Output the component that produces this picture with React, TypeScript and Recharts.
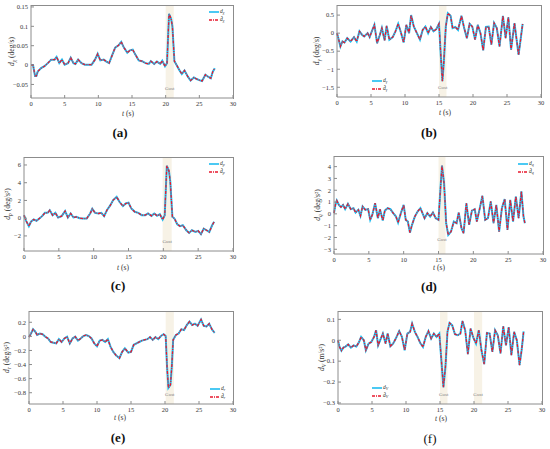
import React from 'react';
import { LineChart, Line, XAxis, YAxis, ReferenceArea, Legend } from 'recharts';

const FONT = '"Liberation Serif", "DejaVu Serif", serif';
const CYAN = '#1ebcf0';
const RED = '#e8182e';
const GREY = '#8c8c8c';
const TEXT = '#333333';
const BAND = '#f7f2e6';

const timeTicks = [0, 5, 10, 15, 20, 25, 30];

// (a) d_chi, deg/s
const timeA = [0, 0.3, 0.6, 0.8, 1, 1.5, 2, 2.5, 3, 3.5, 3.8, 4.2, 4.6, 5, 5.5, 5.9, 6.3, 6.6, 7, 7.5, 8, 8.5, 9, 9.5, 9.9, 10.3, 10.8, 11.2, 11.6, 12, 12.5, 13, 13.4, 13.8, 14.3, 14.7, 15.1, 15.5, 16, 16.5, 17, 17.5, 17.8, 18.3, 18.7, 19.2, 19.5, 19.9, 20.2, 20.5, 20.8, 21, 21.3, 21.6, 22, 22.4, 22.8, 23.3, 23.7, 24.2, 24.6, 25, 25.4, 25.9, 26.3, 26.7, 27, 27.3];
const dChi = [0, 0, -0.028, -0.028, -0.017, -0.008, -0.003, 0.005, 0.014, 0.014, 0.021, 0.005, 0.014, 0.001, 0.005, 0.019, 0.005, 0.003, 0.014, 0.005, 0.001, 0.001, 0.001, 0.014, 0.029, 0.012, 0.014, 0.009, 0.005, 0.023, 0.045, 0.051, 0.06, 0.045, 0.032, 0.038, 0.04, 0.027, 0.012, 0.01, 0.005, 0.003, 0.01, 0.003, 0.009, 0.003, 0.011, -0.003, 0.005, 0.132, 0.12, 0.1, 0.01, 0.001, -0.012, -0.023, -0.014, -0.03, -0.04, -0.032, -0.036, -0.039, -0.041, -0.025, -0.03, -0.034, -0.017, -0.008];
const ticksA = [-0.05, 0, 0.05, 0.1, 0.15];

// (b) d_gamma, deg/s
const timeB = [0, 0.2, 0.5, 0.8, 1.1, 1.5, 2, 2.5, 2.9, 3.3, 3.7, 4, 4.5, 4.8, 5.2, 5.5, 5.9, 6.3, 6.6, 7, 7.3, 7.7, 8.2, 8.6, 9, 9.4, 9.8, 10.2, 10.6, 10.9, 11.3, 11.7, 12.2, 12.6, 13, 13.4, 13.8, 14.2, 14.6, 15, 15.3, 15.5, 15.7, 16, 16.3, 16.7, 17, 17.4, 17.8, 18.3, 18.7, 19.1, 19.5, 19.9, 20.3, 20.7, 21.1, 21.5, 21.9, 22.3, 22.7, 23.1, 23.5, 23.9, 24.4, 24.8, 25.2, 25.6, 26.1, 26.7, 27, 27.3];
const dGamma = [0, -0.14, -0.37, -0.23, -0.26, -0.14, -0.23, -0.11, -0.23, 0.05, -0.05, -0.09, 0, -0.11, 0.09, 0.23, -0.28, -0.05, 0.14, -0.2, 0.2, -0.18, -0.11, 0.05, 0.26, 0.02, -0.26, 0.23, 0, 0.5, 0.18, 0.02, -0.18, 0.09, 0.18, 0, 0.17, 0.05, 0.11, 0.26, -0.73, -1.33, -0.83, 0.18, 0.55, 0.48, 0.14, 0.17, 0.09, 0.48, 0.14, -0.14, 0.26, 0.18, -0.18, 0.23, 0, -0.48, 0.17, 0.18, -0.32, 0.28, 0.14, -0.37, 0.48, -0.14, 0.44, -0.46, 0.28, -0.6, -0.18, 0.26];
const ticksB = [-1.5, -1, -0.5, 0, 0.5];

// (c) d_p, deg/s^2
const timeC = [0, 0.3, 0.7, 1, 1.4, 1.8, 2.2, 2.6, 3, 3.4, 3.7, 4.1, 4.5, 4.9, 5.4, 5.9, 6.3, 6.7, 7.1, 7.5, 8, 8.5, 9, 9.5, 9.8, 10.2, 10.7, 11.1, 11.5, 11.9, 12.4, 12.8, 13.3, 13.7, 14.2, 14.6, 15, 15.4, 15.9, 16.4, 16.9, 17.4, 17.8, 18.3, 18.7, 19.1, 19.5, 19.9, 20.2, 20.5, 20.8, 21, 21.3, 21.6, 22, 22.4, 22.8, 23.3, 23.7, 24.1, 24.6, 25, 25.4, 25.8, 26.2, 26.6, 27, 27.3];
const dP = [0.34, -0.3, -0.9, -0.4, -0.15, -0.3, -0.04, 0.23, 0.6, 0.6, 0.9, 0.34, 0.6, 0.08, 0.23, 0.8, 0.08, 0.53, 0.08, 0.15, 0, -0.04, -0.04, 0.53, 1.06, 0.6, 0.53, 0.6, 0.23, 0.9, 1.47, 2.04, 2.4, 1.85, 1.36, 1.66, 1.74, 1.1, 0.72, 0.6, 0.34, 0.34, 0.53, 0.26, 0.53, 0.26, 0.45, -0.15, 0.34, 5.9, 5.36, 4.1, 0.15, -0.04, -0.68, -0.9, -0.8, -1.36, -1.66, -1.36, -1.55, -1.43, -1.8, -1.17, -1.36, -1.55, -0.8, -0.4];
const ticksC = [-2, 0, 2, 4, 6];

// (d) d_q, deg/s^2
const timeD = [0, 0.2, 0.4, 0.7, 1, 1.3, 1.6, 2, 2.4, 2.8, 3.1, 3.5, 3.8, 4.1, 4.5, 4.9, 5.2, 5.5, 5.9, 6.3, 6.6, 7, 7.3, 7.7, 8.1, 8.5, 8.9, 9.2, 9.6, 10, 10.3, 10.6, 10.9, 11.2, 11.6, 12, 12.4, 12.7, 13, 13.4, 13.8, 14.2, 14.6, 15, 15.3, 15.5, 15.8, 16.1, 16.4, 16.8, 17.2, 17.6, 17.9, 18.3, 18.6, 19, 19.4, 19.8, 20.2, 20.5, 20.9, 21.3, 21.7, 22.1, 22.5, 22.9, 23.3, 23.7, 24.1, 24.5, 24.9, 25.3, 25.7, 26.1, 26.5, 26.9, 27.2, 27.4];
const dQ = [0.06, 0.76, 1.13, 0.76, 0.57, 0.76, 0.4, 0.85, 0.4, 0.48, 0.11, 0.34, -0.17, 0.62, 0.34, 0.4, -0.51, -0.08, 0.9, -0.37, 0.4, -0.57, 0.28, 0.48, 0.4, 0.06, -0.23, -0.74, 0.06, 0.76, -0.51, -0.65, -1.59, -0.93, -0.23, 0.2, 0.48, 0.06, -0.37, 0.06, -0.23, 0.11, -0.37, -0.51, 2.32, 4.08, 2.6, -0.79, -1.78, -1.5, -0.65, -0.79, 0.11, -1.22, -1.64, 0.9, -0.93, 0.28, 0.4, -0.65, 0.4, 1.53, -0.51, -0.37, 1.05, -0.79, 0.76, -1.5, 0.48, 1.25, -1.36, 1.19, -0.65, 1.47, -0.37, 1.9, -0.23, -0.79];
const ticksD = [-3, -2, -1, 0, 1, 2, 3, 4];

// (e) d_r, deg/s^2
const timeE = [0, 0.3, 0.6, 0.9, 1.2, 1.6, 2, 2.4, 2.8, 3.2, 3.6, 4, 4.4, 4.8, 5.2, 5.6, 6, 6.4, 6.8, 7.2, 7.6, 8, 8.4, 8.8, 9.2, 9.6, 10, 10.4, 10.8, 11.2, 11.6, 12, 12.4, 12.8, 13.3, 13.7, 14.1, 14.6, 15, 15.4, 15.8, 16.2, 16.6, 17, 17.4, 17.8, 18.2, 18.6, 19, 19.4, 19.8, 20.1, 20.3, 20.5, 20.8, 21, 21.2, 21.6, 22, 22.4, 22.8, 23.2, 23.6, 24, 24.4, 24.8, 25.3, 25.7, 26.1, 26.5, 26.9, 27.3];
const dR = [-0.01, 0.04, 0.1, 0.07, 0.02, 0.04, 0.03, -0.005, -0.03, -0.08, -0.09, -0.1, -0.04, -0.08, -0.03, -0.005, -0.1, -0.03, -0.005, -0.06, -0.03, 0.005, 0.02, 0.005, -0.03, -0.1, -0.14, -0.06, -0.05, -0.08, -0.04, -0.15, -0.22, -0.27, -0.31, -0.22, -0.17, -0.23, -0.22, -0.12, -0.1, -0.08, -0.06, -0.05, -0.04, -0.01, -0.05, -0.01, -0.04, 0.005, 0.03, 0.005, -0.43, -0.73, -0.69, -0.43, -0.05, 0.02, 0.04, 0.1, 0.09, 0.16, 0.21, 0.16, 0.18, 0.15, 0.24, 0.15, 0.14, 0.18, 0.1, 0.05];
const ticksE = [-0.8, -0.6, -0.4, -0.2, 0, 0.2];

// (f) d_V, m/s^2
const timeF = [0, 0.2, 0.5, 0.8, 1.1, 1.5, 1.9, 2.3, 2.7, 3.1, 3.4, 3.8, 4.1, 4.5, 4.9, 5.3, 5.6, 5.9, 6.3, 6.6, 7, 7.3, 7.7, 8.1, 8.5, 9, 9.4, 9.8, 10.2, 10.6, 10.9, 11.3, 11.7, 12.1, 12.5, 12.9, 13.3, 13.7, 14.1, 14.5, 14.9, 15.2, 15.5, 15.8, 16.1, 16.4, 16.8, 17.2, 17.6, 18, 18.3, 18.7, 19.1, 19.5, 19.9, 20.3, 20.7, 21.1, 21.5, 21.9, 22.3, 22.7, 23.1, 23.5, 23.9, 24.3, 24.7, 25.1, 25.5, 25.9, 26.3, 26.7, 27, 27.3];
const dV = [0, -0.03, -0.05, -0.035, -0.03, -0.02, -0.035, -0.025, -0.03, -0.008, 0.016, 0, -0.048, -0.016, -0.008, 0.016, 0.048, -0.024, 0.008, 0.032, -0.016, 0.032, -0.029, -0.016, 0.008, 0.044, 0.016, -0.048, 0.032, 0.04, 0.08, 0.04, 0.016, -0.013, -0.032, 0.016, 0.044, 0.008, 0.032, 0.016, 0.032, -0.095, -0.225, -0.127, 0.04, 0.083, 0.071, 0.029, 0.024, 0.032, 0.092, 0.048, -0.067, 0.056, 0.013, -0.016, 0.048, -0.048, -0.114, 0.035, 0.032, -0.056, 0.048, 0.024, -0.063, 0.067, -0.024, 0.063, -0.071, 0.04, 0, -0.119, -0.048, 0.043];
const ticksF = [-0.3, -0.2, -0.1, 0, 0.1];

const fmt = (v: number) => (v < 0 ? '\u2212' : '') + String(Math.abs(v));

const YLabel = (props: any) => {
  const { px, py, sub, unit } = props;
  return (
    <text x={px} y={py} transform={`rotate(-90, ${px}, ${py})`} textAnchor="middle" fontFamily={FONT} fontSize={7.5} fill={TEXT}>
      <tspan fontStyle="italic">d</tspan>
      <tspan dy={1.6} fontSize={5.5} fontStyle="italic">{sub}</tspan>
      <tspan dy={-1.6}>{' (' + unit + ')'}</tspan>
    </text>
  );
};

const XLabel = (props: any) => {
  const { px, py } = props;
  return (
    <text x={px} y={py} textAnchor="middle" dominantBaseline="central" fontFamily={FONT} fontSize={7.5} fill={TEXT}>
      <tspan fontStyle="italic">t</tspan>
      <tspan> (s)</tspan>
    </text>
  );
};

const LegendRows = ({ sub }: { sub: string }) => (
  <div style={{ fontFamily: FONT, fontSize: 5.5, color: TEXT, lineHeight: '8px' }}>
    <div style={{ display: 'flex', alignItems: 'center', height: 8 }}>
      <svg width={10} height={4}><line x1={0} y1={2} x2={10} y2={2} stroke={CYAN} strokeWidth={1.6} /></svg>
      <span style={{ marginLeft: 1 }}><i>d</i><i style={{ fontSize: 4, verticalAlign: -1 }}>{sub}</i></span>
    </div>
    <div style={{ display: 'flex', alignItems: 'center', height: 8 }}>
      <svg width={10} height={4}><line x1={0} y1={2} x2={10} y2={2} stroke={RED} strokeWidth={1.4} strokeDasharray="3 1 1 1" /></svg>
      <span style={{ marginLeft: 1 }}><i>{'d\u0302'}</i><i style={{ fontSize: 4, verticalAlign: -1 }}>{sub}</i></span>
    </div>
  </div>
);

type PanelProps = {
  col: number; L: number; R: number; T: number; B: number;
  time: number[]; values: number[]; domain: [number, number]; ticks: number[];
  sub: string; unit: string; yLabelX: number; xLabel: [number, number];
  legend: [number, number]; gusts: [number, number][]; gustOffset: number;
};

function Panel(p: PanelProps) {
  const rows = p.time.map((t, i) => ({ t, d: p.values[i], dHat: p.values[i] }));
  const top = p.T - 2;
  const axisW = p.L - p.col;
  const right = 6;
  const W = p.R - p.col + right;
  const H = p.B - top + 24;
  const tickStyle = { fontFamily: FONT, fontSize: 6.5, fill: TEXT };
  return (
    <div style={{ position: 'absolute', left: p.col, top }}>
      <LineChart width={W} height={H} data={rows} margin={{ top: 2, right, left: 0, bottom: 0 }}>
        {p.gusts.map((g, i) => (
          <ReferenceArea key={i} x1={g[0]} x2={g[1]} fill={BAND} fillOpacity={1} stroke="none"
            label={{ value: 'Gust', position: 'insideBottom', offset: p.gustOffset, fontSize: 5, fill: '#888', fontFamily: FONT }} />
        ))}
        <XAxis dataKey="t" type="number" domain={[0, 30]} ticks={timeTicks} height={24} interval={0}
          stroke={GREY} tickSize={-3} tickMargin={6} tick={tickStyle}
          label={<XLabel px={p.xLabel[0] - p.col} py={p.xLabel[1] - top} />} />
        <YAxis type="number" domain={p.domain} ticks={p.ticks} width={axisW} allowDataOverflow interval={0}
          stroke={GREY} tickSize={-3} tickMargin={6} tick={tickStyle} tickFormatter={fmt}
          label={<YLabel px={p.yLabelX - p.col} py={(p.T + p.B) / 2 - top} sub={p.sub} unit={p.unit} />} />
        <Line type="linear" dataKey="d" stroke={CYAN} strokeWidth={2} dot={false} isAnimationActive={false} />
        <Line type="linear" dataKey="dHat" stroke={RED} strokeWidth={1.3} strokeDasharray="3 1.2 1 1.2" dot={false} isAnimationActive={false} />
        <Legend layout="vertical" align="center" verticalAlign="middle"
          wrapperStyle={{ left: p.legend[0] - p.col, top: p.legend[1] - top, width: 'auto', height: 'auto' }}
          content={() => <LegendRows sub={p.sub} />} />
      </LineChart>
      {/* plot frame (top and right edges; left and bottom come from the axes) */}
      <div style={{
        position: 'absolute', left: axisW, top: 1.5, width: p.R - p.L, height: p.B - p.T,
        borderTop: `1px solid ${GREY}`, borderRight: `1px solid ${GREY}`, pointerEvents: 'none',
      }} />
    </div>
  );
}

const Caption = ({ x, y, text, bold }: { x: number; y: number; text: string; bold: boolean }) => (
  <div style={{ position: 'absolute', left: x - 20, top: y - 8, width: 40, textAlign: 'center', fontFamily: FONT, fontSize: 13, fontWeight: bold ? 'bold' : 'normal', color: '#111', lineHeight: '16px' }}>
    {text}
  </div>
);

export default function App() {
  return (
    <div style={{ position: 'absolute', left: 0, top: 0, width: 550, height: 449, background: '#fff', overflow: 'hidden' }}>
      <Panel col={0} L={31} R={233} T={5} B={98} time={timeA} values={dChi} domain={[-0.085, 0.155]} ticks={ticksA}
        sub={'\u03c7'} unit="deg/s" yLabelX={14} xLabel={[128, 113]} legend={[209, 8]} gusts={[[20, 21.2]]} gustOffset={8} />
      <Panel col={275} L={337} R={541} T={5} B={97} time={timeB} values={dGamma} domain={[-1.77, 0.78]} ticks={ticksB}
        sub={'\u03b3'} unit="deg/s" yLabelX={319} xLabel={[445, 112]} legend={[372, 77]} gusts={[[15, 16.1]]} gustOffset={8} />
      <Panel col={0} L={24} R={233} T={157} B={251} time={timeC} values={dP} domain={[-3.7, 6.9]} ticks={ticksC}
        sub="p" unit={'deg/s\u00b2'} yLabelX={10} xLabel={[123, 267]} legend={[209, 160]} gusts={[[19.9, 21.2]]} gustOffset={8} />
      <Panel col={275} L={334} R={543} T={156} B={254} time={timeD} values={dQ} domain={[-3.4, 4.9]} ticks={ticksD}
        sub="q" unit={'deg/s\u00b2'} yLabelX={320} xLabel={[439, 267]} legend={[518, 160]} gusts={[[15, 16]]} gustOffset={13} />
      <Panel col={0} L={29} R={233} T={311} B={404} time={timeE} values={dR} domain={[-0.96, 0.36]} ticks={ticksE}
        sub="r" unit={'deg/s\u00b2'} yLabelX={9} xLabel={[120, 417]} legend={[210, 385]} gusts={[[20.1, 21.3]]} gustOffset={8} />
      <Panel col={275} L={338} R={542} T={311} B={404} time={timeF} values={dV} domain={[-0.305, 0.14]} ticks={ticksF}
        sub="V" unit={'m/s\u00b2'} yLabelX={324} xLabel={[441, 418]} legend={[372, 384]} gusts={[[15, 16.1], [20, 21.2]]} gustOffset={8} />
      <Caption x={120} y={133} text="(a)" bold />
      <Caption x={429} y={133} text="(b)" bold />
      <Caption x={118} y={286} text="(c)" bold />
      <Caption x={429} y={287} text="(d)" bold />
      <Caption x={118} y={438} text="(e)" bold />
      <Caption x={430} y={439} text="(f)" bold={false} />
    </div>
  );
}
